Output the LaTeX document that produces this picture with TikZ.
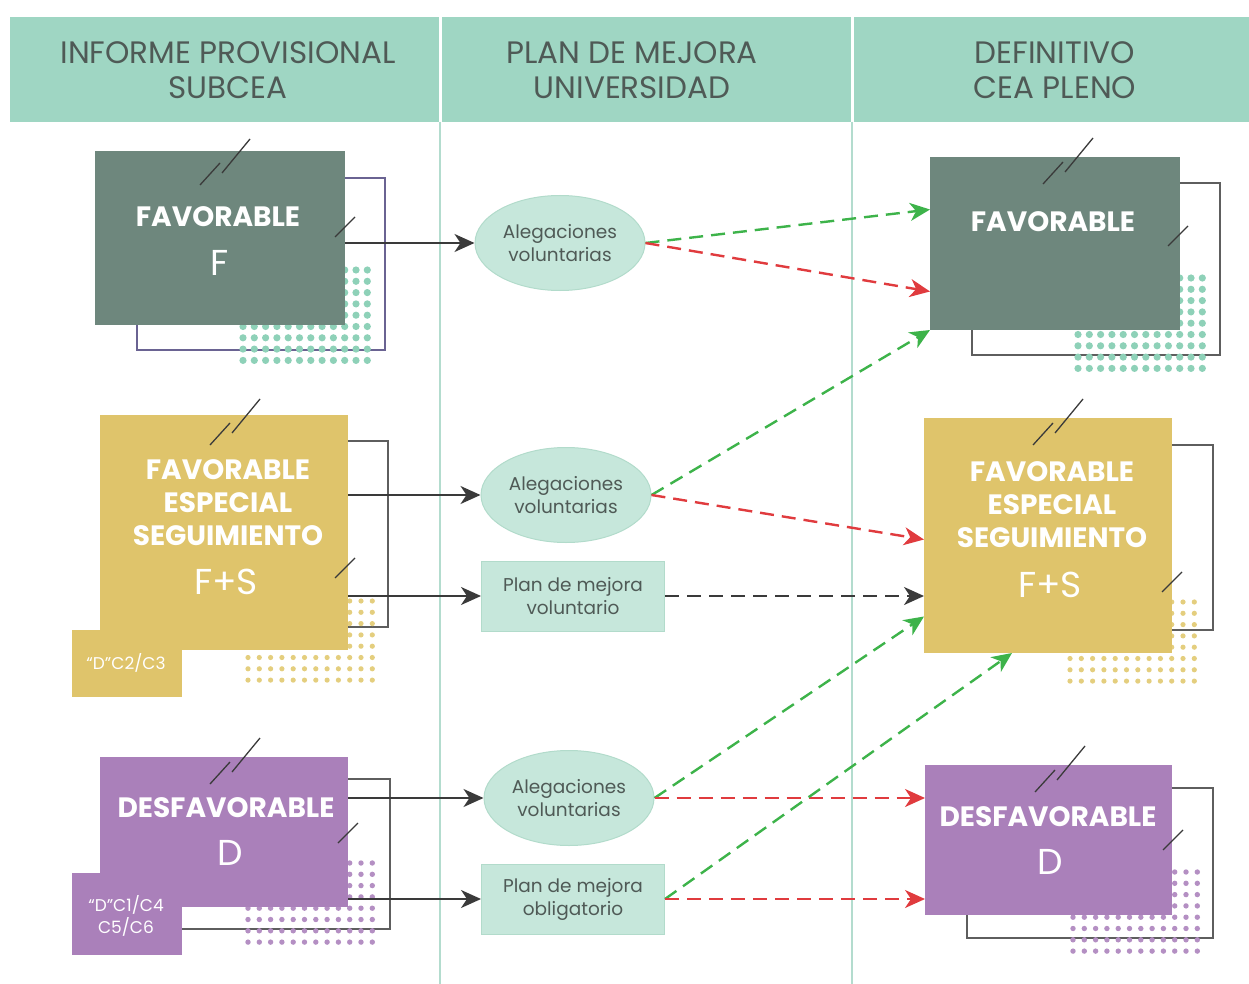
\documentclass[tikz,border=0pt]{standalone}
\usepackage{fontspec}
\setmainfont{Poppins}
\usetikzlibrary{arrows.meta,shapes.geometric}

\definecolor{headteal}{HTML}{9FD6C3}
\definecolor{headtext}{HTML}{4F5A56}
\definecolor{colline}{HTML}{B3DCCE}
\definecolor{paleteal}{HTML}{C6E7DB}
\definecolor{paleedge}{HTML}{B2DBCB}
\definecolor{favgrey}{HTML}{6E877D}
\definecolor{fsgold}{HTML}{DFC46B}
\definecolor{desviolet}{HTML}{AA80BA}
\definecolor{dotteal}{HTML}{8ED1B8}
\definecolor{dotgold}{HTML}{E4CE7E}
\definecolor{dotviolet}{HTML}{B48FC3}
\definecolor{framegrey}{HTML}{5E5E5E}
\definecolor{framelilac}{HTML}{6A6392}
\definecolor{arrgreen}{HTML}{3DB34A}
\definecolor{arrred}{HTML}{E03B3E}
\definecolor{arrdark}{HTML}{3A3A3A}

\tikzset{
  colhead/.style = {text = headtext, align = center, font = \fontsize{31}{35}\selectfont},
  box/.style = {inner sep = 0pt, outer sep = 0pt},
  boxtitle/.style = {text = white, align = center, font = \bfseries\fontsize{28}{33}\selectfont},
  boxletter/.style = {text = white, font = \fontsize{36}{40}\selectfont},
  tagtext/.style = {text = white, align = center, font = \fontsize{17}{22}\selectfont},
  stage/.style = {fill = paleteal, draw = paleedge, line width = 1pt, text = headtext,
    align = center, inner sep = 0pt, font = \fontsize{18.5}{23}\selectfont},
  stageoval/.style = {stage, ellipse, minimum width = 170pt, minimum height = 95pt},
  stagerect/.style = {stage, rectangle, minimum width = 183pt, minimum height = 70pt},
  frame/.style = {draw = framegrey, line width = 1.2pt},
  slashline/.style = {draw = arrdark, line width = 1.3pt},
  solidarrow/.style = {draw = arrdark, line width = 2pt,
    -{Stealth[length = 20pt, width = 18pt, inset = 6pt]}},
  dasharrow/.style = {line width = 2.4pt, dash pattern = on 14pt off 8pt,
    -{Stealth[length = 20pt, width = 18pt, inset = 6pt]}}
}

\begin{document}
\begin{tikzpicture}[x = 1pt, y = -1pt]
%\draw [very thin, color = gray] (0, 0) grid [step = 50] (1249, 984);
\useasboundingbox (0, 0) rectangle (1249, 984);

% header band
\fill [headteal] (10, 17) rectangle (1249, 122);
\draw [white, line width = 3pt] (440, 17) to (440, 122);
\draw [white, line width = 3pt] (852, 17) to (852, 122);
\draw [colline, line width = 2pt] (440, 122) to (440, 984);
\draw [colline, line width = 2pt] (852, 122) to (852, 984);
\node [colhead] (hInf) at (228, 70) {INFORME PROVISIONAL\\SUBCEA};
\node [colhead] (hPlan) at (632, 70) {PLAN DE MEJORA\\UNIVERSIDAD};
\node [colhead] (hDef) at (1055, 70) {DEFINITIVO\\CEA PLENO};

% frames behind the boxes
\draw [frame, draw = framelilac] (137, 178) rectangle (385, 350);
\draw [frame] (140, 441) rectangle (388, 627);
\draw [frame] (150, 779) rectangle (390, 929);
\draw [frame] (972, 183) rectangle (1220, 355);
\draw [frame] (966, 445) rectangle (1213, 630);
\draw [frame] (967, 788) rectangle (1213, 938);

% dot grids
\foreach \x/\y/\c/\r/\n in {243/270/dotteal/3.6pt/8, 1078/278/dotteal/3.6pt/8,
    248/601/dotgold/2.6pt/7, 1070/602/dotgold/2.6pt/7,
    248/863/dotviolet/2.7pt/7, 1073/872/dotviolet/2.7pt/7}
  \foreach \i in {0, ..., 11}
    \foreach \j in {0, ..., \n}
      \fill [\c] (\x + 11.3*\i, \y + 11.3*\j) circle [radius = \r];

% provisional boxes
\node [box, fill = favgrey, minimum width = 250pt, minimum height = 174pt] (favL) at (220, 238) {};
\node [box, fill = fsgold, minimum width = 248pt, minimum height = 235pt] (fsL) at (224, 532.5) {};
\node [box, fill = fsgold, minimum width = 110pt, minimum height = 67pt] (tagFs) at (127, 663.5) {};
\node [box, fill = desviolet, minimum width = 248pt, minimum height = 150pt] (desL) at (224, 832) {};
\node [box, fill = desviolet, minimum width = 110pt, minimum height = 82pt] (tagDes) at (127, 914) {};

% final boxes
\node [box, fill = favgrey, minimum width = 250pt, minimum height = 173pt] (favR) at (1055, 243.5) {};
\node [box, fill = fsgold, minimum width = 248pt, minimum height = 235pt] (fsR) at (1048, 535.5) {};
\node [box, fill = desviolet, minimum width = 247pt, minimum height = 150pt] (desR) at (1048.5, 840) {};

% slash marks
\foreach \x/\y in {220/163, 230/423, 230/762, 1063/162, 1053/423, 1055/770}
  \draw [slashline, shift = {(\x, \y)}] (-20, 22) to (0, 0) (2, 10) to (30, -24);
\foreach \x/\y in {335/237, 335/578, 338/843, 1168/246, 1162/592, 1163/850}
  \draw [slashline] (\x, \y) to (\x + 20, \y - 20);

% box texts
\node [boxtitle] (tFavL) at (218, 217) {FAVORABLE};
\node [boxletter] (lFavL) at (220, 263) {F};
\node [boxtitle] (tFsL) at (228, 503) {FAVORABLE\\ESPECIAL\\SEGUIMIENTO};
\node [boxletter] (lFsL) at (226, 582) {F+S};
\node [tagtext] (tTagFs) at (126, 663) {“D”C2/C3};
\node [boxtitle] (tDesL) at (226, 808) {DESFAVORABLE};
\node [boxletter] (lDesL) at (230, 853) {D};
\node [tagtext] (tTagDes) at (126, 916) {“D”C1/C4\\C5/C6};
\node [boxtitle] (tFavR) at (1053, 222) {FAVORABLE};
\node [boxtitle] (tFsR) at (1052, 505) {FAVORABLE\\ESPECIAL\\SEGUIMIENTO};
\node [boxletter] (lFsR) at (1050, 585) {F+S};
\node [boxtitle] (tDesR) at (1048, 817) {DESFAVORABLE};
\node [boxletter] (lDesR) at (1050, 862) {D};

% university steps
\node [stageoval] (aleg1) at (560, 243) {Alegaciones\\voluntarias};
\node [stageoval] (aleg2) at (566, 495) {Alegaciones\\voluntarias};
\node [stagerect] (planVol) at (573, 596) {Plan de mejora\\voluntario};
\node [stageoval] (aleg3) at (569, 798) {Alegaciones\\voluntarias};
\node [stagerect] (planObl) at (573, 899) {Plan de mejora\\obligatorio};

% arrows into the university column
\draw [solidarrow] (favL.east |- aleg1.west) to (aleg1.west);
\draw [solidarrow] (fsL.east |- aleg2.west) to (aleg2.west);
\draw [solidarrow] (fsL.east |- planVol.west) to (planVol.west);
\draw [solidarrow] (desL.east |- aleg3.west) to (aleg3.west);
\draw [solidarrow] (desL.east |- planObl.west) to (planObl.west);

% outcomes
\draw [dasharrow, arrgreen] (aleg1.east) to ([yshift = 34pt] favR.west);
\draw [dasharrow, arrred] (aleg1.east) to ([yshift = -48pt] favR.west);
\draw [dasharrow, arrgreen] (aleg2.east) to (favR.south west);
\draw [dasharrow, arrred] (aleg2.east) to ([yshift = -4pt] fsR.west);
\draw [dasharrow, arrdark] (planVol.east) to ([yshift = -60.5pt] fsR.west);
\draw [dasharrow, arrgreen] (aleg3.east) to ([yshift = -81pt] fsR.west);
\draw [dasharrow, arrred] (aleg3.east) to ([yshift = 42pt] desR.west);
\draw [dasharrow, arrgreen] (planObl.east) to ([xshift = -36pt] fsR.south);
\draw [dasharrow, arrred] (planObl.east) to ([yshift = -59pt] desR.west);
\end{tikzpicture}
\end{document}
